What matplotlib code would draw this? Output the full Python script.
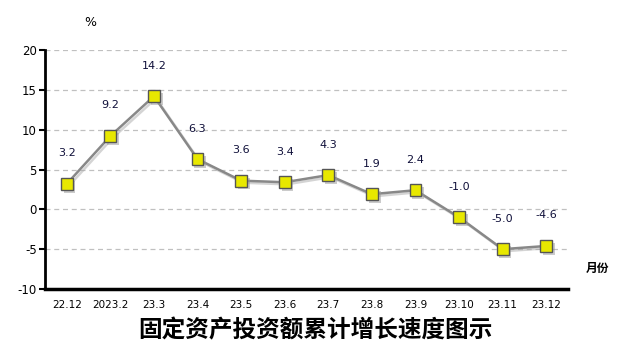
import matplotlib
matplotlib.use('Agg')
import matplotlib.pyplot as plt
import matplotlib.patheffects as pe

plt.rcParams['font.family'] = ['Noto Sans CJK SC', 'DejaVu Sans']

# 数据
months = ['22.12', '2023.2', '23.3', '23.4', '23.5', '23.6', '23.7',
          '23.8', '23.9', '23.10', '23.11', '23.12']
growth = [3.2, 9.2, 14.2, 6.3, 3.6, 3.4, 4.3, 1.9, 2.4, -1.0, -5.0, -4.6]
yticks = [-10, -5, 0, 5, 10, 15, 20]

fig = plt.figure(figsize=(6.32, 3.6), dpi=100)
ax = fig.add_axes([45 / 632, 1 - 289 / 360, (568 - 45) / 632, (289 - 50) / 360])

x = list(range(len(months)))
ax.plot(x, growth, color='#888888', linewidth=1.8, zorder=3,
        path_effects=[pe.SimpleLineShadow(offset=(1.5, -1.5), shadow_color='#aaaaaa', alpha=0.5), pe.Normal()])
ax.plot(x, growth, linestyle='none', marker='s', markersize=8.5,
        markerfacecolor='#e8e800', markeredgecolor='#555555', markeredgewidth=1.0,
        zorder=4, path_effects=[pe.SimplePatchShadow(offset=(2, -2), shadow_rgbFace='#999999', alpha=0.5), pe.Normal()])

for xi, v in zip(x, growth):
    ax.annotate(f'{v:.1f}', (xi, v), xytext=(0, 22), textcoords='offset points',
                ha='center', va='center', fontsize=8, color='#10103a', family='DejaVu Sans')

ax.set_xlim(-0.5, len(months) - 0.5)
ax.set_ylim(-10, 20)
ax.set_yticks(yticks)
ax.set_yticklabels([str(t) for t in yticks], family='DejaVu Sans', fontsize=8.5)
ax.set_xticks(x)
ax.set_xticklabels(months, family='DejaVu Sans', fontsize=7.5)
ax.tick_params(axis='x', length=0, pad=8)
ax.tick_params(axis='y', length=4, width=1.5, direction='out', pad=2)

for t in yticks[1:]:
    ax.axhline(t, color='#c0c0c0', linestyle=(0, (4, 3)), linewidth=0.9, zorder=1)

for s in ['top', 'right']:
    ax.spines[s].set_visible(False)
ax.spines['left'].set_linewidth(2)
ax.spines['bottom'].set_linewidth(2.5)

fig.text(90 / 632, 1 - 22 / 360, '%', ha='center', va='center', fontsize=9, family='DejaVu Sans')
fig.text(597 / 632, 1 - 268 / 360, '月份', ha='center', va='center', fontsize=8.5, fontweight='bold')
fig.text(315 / 632, 1 - 330 / 360, '固定资产投资额累计增长速度图示', ha='center', va='center',
         fontsize=17, fontweight='bold')

fig.savefig('out.png', dpi=100, facecolor='white')
